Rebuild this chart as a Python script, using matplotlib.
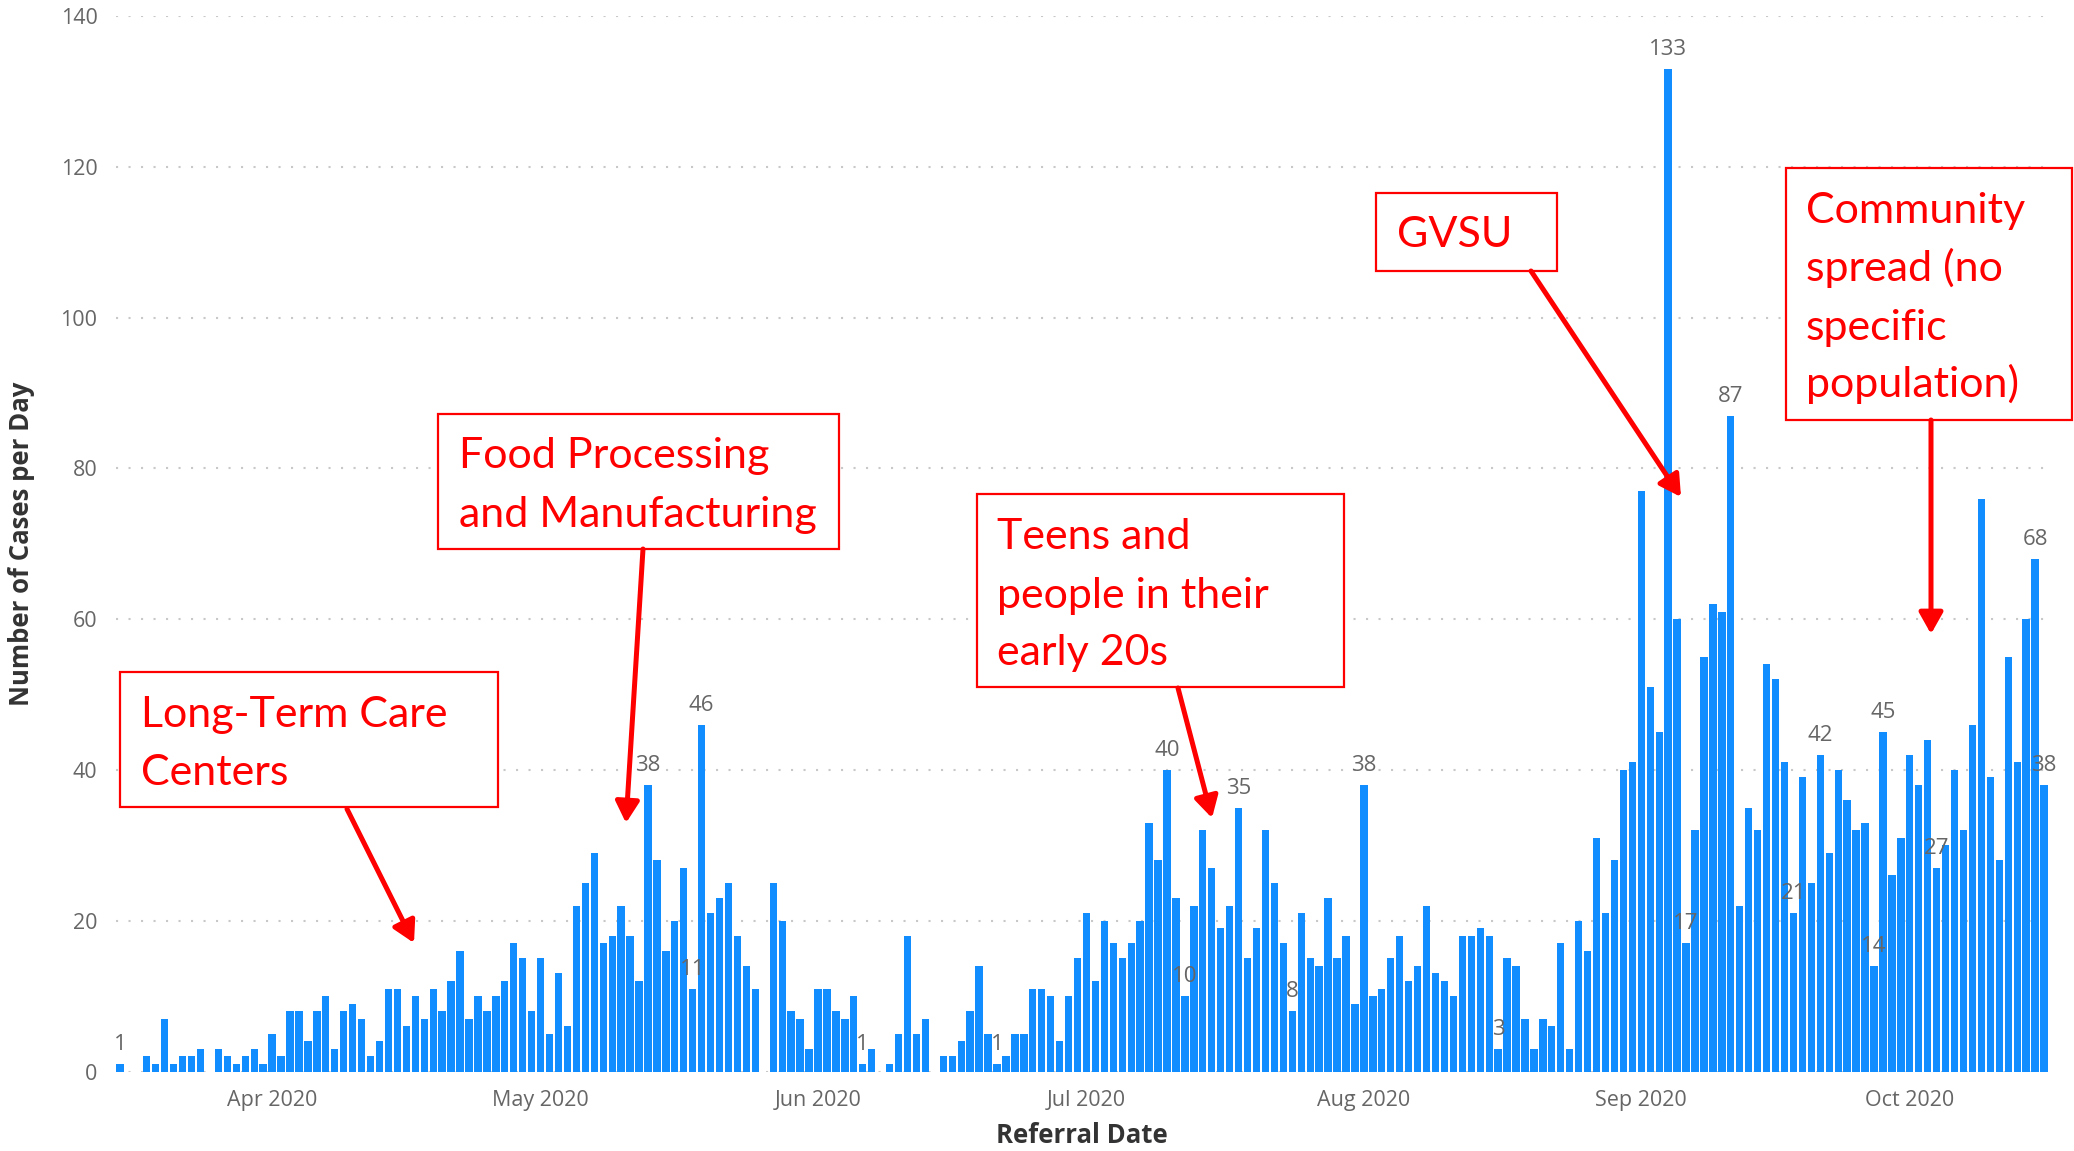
import matplotlib
matplotlib.use("Agg")
import matplotlib.pyplot as plt
import matplotlib.dates as mdates
from matplotlib.patches import Rectangle, FancyArrowPatch
import pandas as pd

# daily referrals, one value per day starting 15 Mar 2020 (0 = no bar)
START = "2020-03-15"
CASES = [
    1, 0, 0, 2, 1, 7, 1, 2, 2, 3, 0, 3, 2, 1, 2, 3, 1,            # Mar 15-31
    5, 2, 8, 8, 4, 8, 10, 3, 8, 9, 7, 2, 4, 11, 11, 6, 10, 7,      # Apr 1-18
    11, 8, 12, 16, 7, 10, 8, 10, 12, 17, 15, 8,                    # Apr 19-30
    15, 5, 13, 6, 22, 25, 29, 17, 18, 22, 18, 12, 38, 28, 16, 20,  # May 1-16
    27, 11, 46, 21, 23, 25, 18, 14, 11, 0, 25, 20, 8, 7, 3,        # May 17-31
    11, 11, 8, 7, 10, 1, 3, 0, 1, 5, 18, 5, 7, 0, 2, 2,            # Jun 1-16
    4, 8, 14, 5, 1, 2, 5, 5, 11, 11, 10, 4, 10, 15,                # Jun 17-30
    21, 12, 20, 17, 15, 17, 20, 33, 28, 40, 23, 10, 22, 32, 27,    # Jul 1-15
    19, 22, 35, 15, 19, 32, 25, 17, 8, 21, 15, 14, 23, 15, 18, 9,  # Jul 16-31
    38, 10, 11, 15, 18, 12, 14, 22, 13, 12, 10, 18, 18, 19, 18,    # Aug 1-15
    3, 15, 14, 7, 3, 7, 6, 17, 3, 20, 16, 31, 21, 28, 40, 41,      # Aug 16-31
    77, 51, 45, 133, 60, 17, 32, 55, 62, 61, 87, 22, 35, 32, 54,   # Sep 1-15
    52, 41, 21, 39, 25, 42, 29, 40, 36, 32, 33, 14, 45, 26, 31,    # Sep 16-30
    42, 38, 44, 27, 30, 40, 32, 46, 76, 39, 28, 55, 41, 60, 68, 38,  # Oct 1-16
]
LABELED = ["2020-03-15", "2020-05-13", "2020-05-18", "2020-05-19",
           "2020-06-06", "2020-06-21", "2020-07-10", "2020-07-12",
           "2020-07-18", "2020-07-24", "2020-08-01", "2020-08-16",
           "2020-09-04", "2020-09-06", "2020-09-11", "2020-09-18",
           "2020-09-21", "2020-09-27", "2020-09-28", "2020-10-04",
           "2020-10-15", "2020-10-16"]

# callouts: box (x0, y0, x1, y1) in image px, text lines, baselines, arrow
CALLOUTS = [
    ((120, 672, 498, 807), ["Long-Term Care", "Centers"], 141, [727, 785],
     ((347, 809), (414, 943))),
    ((438, 414, 839, 549), ["Food Processing", "and Manufacturing"], 459,
     [468, 527], ((643, 549), (626, 823))),
    ((977, 494, 1344, 687), ["Teens and", "people in their", "early 20s"], 997,
     [549, 608, 665], ((1178, 688), (1212, 818))),
    ((1376, 193, 1557, 271), ["GVSU"], 1397, [247],
     ((1531, 271), (1681, 497))),
    ((1786, 168, 2072, 420), ["Community", "spread (no", "specific",
                              "population)"], 1806, [223, 281, 340, 397],
     ((1931, 420), (1931, 634))),
]

W, H = 2074, 1151
BLUE = "#118DFF"
RED = "#FF0000"
TICK = "#666666"
TITLE = "#333333"

dates = pd.date_range(START, periods=len(CASES), freq="D")
s = pd.Series(CASES, index=dates)

fig = plt.figure(figsize=(W / 100, H / 100), dpi=100)
ax = fig.add_axes([115.5 / W, 1 - 1071.5 / H, (2048.5 - 115.5) / W,
                   (1071.5 - 16) / H])

ax.bar(s.index, s.values, width=0.82, color=BLUE, linewidth=0, zorder=2)

for d in LABELED:
    t = pd.Timestamp(d)
    ax.annotate(f"{s[t]}", (t, s[t]), xytext=(0, 10), textcoords="offset points",
                ha="center", va="baseline", fontsize=16, color=TICK,
                family="Open Sans", zorder=3)

ax.set_ylim(0, 140)
ax.set_yticks(range(0, 141, 20))
ax.set_xlim(dates[0] - pd.Timedelta(hours=12), dates[-1] + pd.Timedelta(hours=12))
ax.xaxis.set_major_locator(mdates.MonthLocator(bymonth=[4, 5, 6, 7, 8, 9, 10]))
ax.xaxis.set_major_formatter(mdates.DateFormatter("%b %Y"))

ax.grid(axis="y", color="#c8c8c8", linestyle=(0, (1, 5)), linewidth=1.5, zorder=0)
ax.grid(axis="x", visible=False)
for sp in ax.spines.values():
    sp.set_visible(False)
ax.tick_params(length=0, labelsize=15.5, labelcolor=TICK, pad=13)
for lab in ax.get_xticklabels() + ax.get_yticklabels():
    lab.set_family("Open Sans")

ax.set_xlabel("Referral Date", fontsize=18.5, fontweight="bold", color=TITLE,
              family="Open Sans", labelpad=8)
ax.set_ylabel("Number of Cases per Day", fontsize=18.5, fontweight="bold",
              color=TITLE, family="Open Sans", labelpad=18)


def fx(x):
    return x / W


def fy(y):
    return 1 - y / H


for (x0, y0, x1, y1), lines, tx, bases, (a0, a1) in CALLOUTS:
    fig.patches.append(Rectangle((fx(x0), fy(y1)), fx(x1) - fx(x0), fy(y0) - fy(y1),
                                 transform=fig.transFigure, facecolor="white",
                                 edgecolor=RED, linewidth=1.6, zorder=5))
    for line, b in zip(lines, bases):
        fig.text(fx(tx), fy(b), line, color=RED, fontsize=31, family="Lato",
                 va="baseline", ha="left", zorder=6)
    fig.patches.append(FancyArrowPatch((fx(a0[0]), fy(a0[1])), (fx(a1[0]), fy(a1[1])),
                                       transform=fig.transFigure,
                                       arrowstyle="-|>,head_length=0.8,head_width=0.45",
                                       mutation_scale=16, color=RED, linewidth=3.6,
                                       shrinkA=0, shrinkB=0, zorder=6))

fig.savefig("out.png", dpi=100, facecolor="white")
